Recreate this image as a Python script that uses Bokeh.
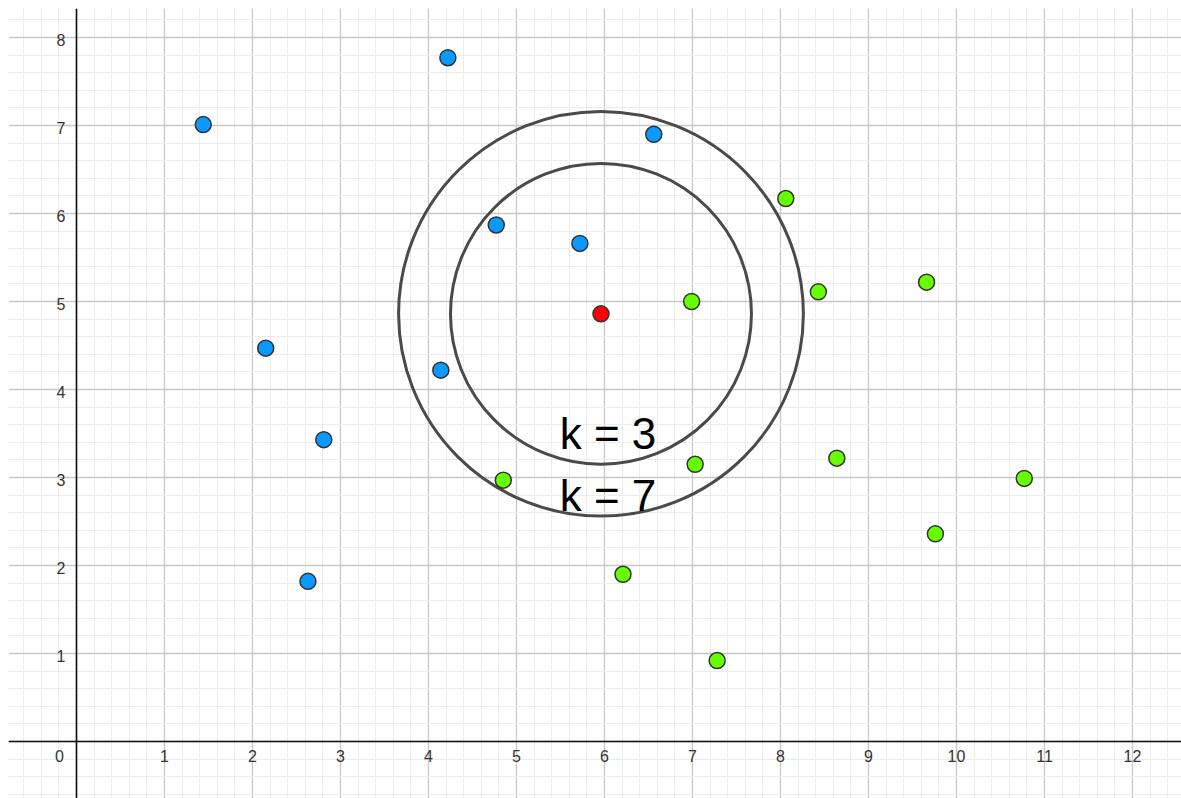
from bokeh.plotting import figure
from bokeh.models import Range1d, Grid, SingleIntervalTicker, Span
from bokeh.core.properties import value
from bokeh.embed import file_html
from bokeh.resources import INLINE

# ---- data ----
blue_x = [1.44, 4.22, 2.15, 2.81, 2.63, 4.14, 4.77, 5.72, 6.56]
blue_y = [7.01, 7.77, 4.47, 3.43, 1.82, 4.22, 5.87, 5.66, 6.90]

green_x = [8.06, 8.43, 9.66, 6.99, 4.85, 7.03, 8.64, 10.77, 9.76, 6.21, 7.28]
green_y = [6.17, 5.11, 5.22, 5.00, 2.97, 3.15, 3.22, 2.99, 2.36, 1.90, 0.92]

query_x = [5.96]
query_y = [4.86]

circle_radius = [1.71, 2.30]
circle_labels = ["k = 3", "k = 7"]
label_x = [6.04, 6.04]
label_y = [3.50, 2.80]

x_ticks = list(range(1, 13))
x_tick_labels = [str(v) for v in x_ticks]
y_ticks = list(range(1, 9))
y_tick_labels = [str(v) for v in y_ticks]

# ---- figure ----
W, H = 1181, 798
BL, BT = 8, 8
scale = 88.0
x0 = -68.0 / scale
y1 = 733.0 / scale
fw, fh = W - BL, H - BT
p = figure(width=W, height=H, output_backend="svg", toolbar_location=None,
           x_range=Range1d(x0, x0 + fw / scale), y_range=Range1d(y1 - fh / scale, y1),
           x_axis_type=None, y_axis_type=None,
           min_border_left=BL, min_border_top=BT, min_border_right=0, min_border_bottom=0)
p.outline_line_color = None
p.background_fill_color = "white"
p.border_fill_color = "white"

for dim in (0, 1):
    g = Grid(dimension=dim, ticker=SingleIntervalTicker(interval=1, num_minor_ticks=5),
             grid_line_color="#c8c8c8", grid_line_width=1.3,
             minor_grid_line_color="#ececec", minor_grid_line_width=1)
    p.add_layout(g)

p.add_layout(Span(location=0, dimension="height", line_color="#111111", line_width=1.6))
p.add_layout(Span(location=0, dimension="width", line_color="#111111", line_width=1.6))

# tick labels
p.text(x=x_ticks, y=[0] * len(x_ticks), text=x_tick_labels, text_align="center",
       text_baseline="top", y_offset=8, text_font=value("Liberation Sans"),
       text_font_size="16px", text_color="#333333")
p.text(x=[0] * len(y_ticks), y=y_ticks, text=y_tick_labels, text_align="right",
       text_baseline="middle", x_offset=-11, y_offset=2, text_font=value("Liberation Sans"),
       text_font_size="16px", text_color="#333333")
p.text(x=[0], y=[0], text=["0"], text_align="center", text_baseline="top",
       x_offset=-17, y_offset=8, text_font=value("Liberation Sans"),
       text_font_size="16px", text_color="#333333")

# circles
p.circle(x=query_x * 2, y=query_y * 2, radius=circle_radius, fill_color=None,
         line_color="#4a4a4a", line_width=3)

# labels
p.text(x=label_x, y=label_y, text=circle_labels, text_align="center",
       text_baseline="alphabetic", text_font=value("Liberation Sans"),
       text_font_size="44px", text_color="black")

# points
p.scatter(blue_x, blue_y, size=16, fill_color="#0a99ff", line_color="#333333", line_width=1.5)
p.scatter(green_x, green_y, size=16, fill_color="#66ff00", line_color="#333333", line_width=1.5)
p.scatter(query_x, query_y, size=16, fill_color="#ff0000", line_color="#333333", line_width=1.5)

open("out.html", "w").write(file_html(p, INLINE))
